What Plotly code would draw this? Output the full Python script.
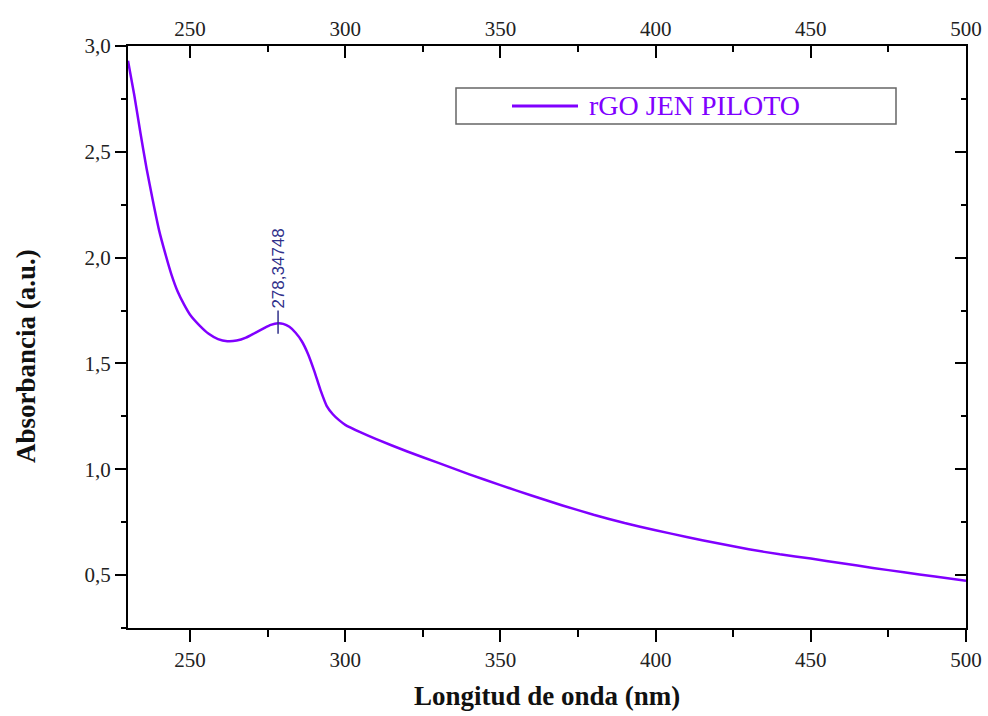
import plotly.graph_objects as go

# Data
wavelength = [230, 232, 234, 236, 238, 240, 242, 244, 246, 248, 250, 253, 256, 259, 262, 265,
              268, 271, 274, 276, 278.35, 280, 282, 284, 286, 288, 290, 292, 294, 296, 298,
              300, 305, 310, 320, 330, 340, 350, 360, 370, 380, 390, 400, 410, 420, 430, 440,
              450, 460, 470, 480, 490, 500]
absorbance = [2.93, 2.77, 2.59, 2.42, 2.27, 2.13, 2.02, 1.92, 1.84, 1.78, 1.73, 1.68, 1.64, 1.615, 1.605, 1.608,
              1.622, 1.645, 1.668, 1.682, 1.69, 1.687, 1.673, 1.645, 1.605, 1.545, 1.465, 1.375, 1.30, 1.26, 1.232,
              1.21, 1.174, 1.142, 1.084, 1.03, 0.976, 0.925, 0.876, 0.829, 0.785, 0.746, 0.712, 0.68, 0.65, 0.622, 0.598,
              0.578, 0.556, 0.534, 0.513, 0.493, 0.473]
series_name = "rGO JEN PILOTO"
peak_label = "278,34748"
peak_x = 278.34748
x_title = "Longitud de onda (nm)"
y_title = "Absorbancia (a.u.)"

x_range = [230, 500]
y_range = [0.25, 3.0]

line_color = "#8000FF"
serif = "Liberation Serif"

peak_y = absorbance[wavelength.index(278.35)]

fig = go.Figure()
fig.add_trace(go.Scatter(x=wavelength, y=absorbance, mode="lines", name=series_name,
                         line=dict(color=line_color, width=2.5, shape="spline", smoothing=0.5),
                         showlegend=False))
# invisible trace to activate the mirror axes
fig.add_trace(go.Scatter(x=wavelength, y=absorbance, xaxis="x2", yaxis="y2", mode="lines",
                         line=dict(color="rgba(0,0,0,0)"), hoverinfo="skip", showlegend=False))

tickfont = dict(family=serif, size=21, color="#222222")
common = dict(tickwidth=2, tickcolor="black", showline=True, linewidth=2, linecolor="black",
              showgrid=False, zeroline=False)
fig.update_layout(
    width=988, height=716,
    font=dict(family=serif),
    margin=dict(l=128, r=22, t=46, b=88, autoexpand=False),
    paper_bgcolor="white", plot_bgcolor="white",
    separators=",.",
    xaxis=dict(range=x_range, tick0=250, dtick=50, ticks="outside", ticklen=12, tickfont=tickfont,
               minor=dict(ticks="outside", ticklen=7, tickwidth=2, tickcolor="black", dtick=25, tick0=250),
               **common),
    xaxis2=dict(range=x_range, overlaying="x", side="top", tick0=250, dtick=50, ticks="inside",
                ticklen=12, tickfont=tickfont,
                minor=dict(ticks="inside", ticklen=6, tickwidth=2, tickcolor="black", dtick=25, tick0=250),
                **common),
    yaxis=dict(range=y_range, tick0=0.5, dtick=0.5, tickformat=".1f", ticks="outside", ticklen=11,
               tickfont=tickfont,
               minor=dict(ticks="outside", ticklen=5, tickwidth=2, tickcolor="black", dtick=0.25, tick0=0.25),
               **common),
    yaxis2=dict(range=y_range, overlaying="y", side="right", tick0=0.5, dtick=0.5, ticks="inside",
                ticklen=11, showticklabels=False,
                minor=dict(ticks="inside", ticklen=5, tickwidth=2, tickcolor="black", dtick=0.25, tick0=0.25),
                **common),
)

px0, px1 = 128, 966
py0, py1 = 46, 628
def fx(p):
    return (p - px0) / (px1 - px0)
def fy(p):
    return 1 - (p - py0) / (py1 - py0)

# axis titles
fig.add_annotation(xref="paper", yref="paper", x=0.5, y=fy(679), text="<b>" + x_title + "</b>",
                   showarrow=False, xanchor="center", yanchor="top",
                   font=dict(family=serif, size=27, color="#111111"))
fig.add_annotation(xref="paper", yref="paper", x=fx(26), y=fy(356), text="<b>" + y_title + "</b>",
                   showarrow=False, xanchor="center", yanchor="middle", textangle=-90,
                   font=dict(family=serif, size=27, color="#111111"))

# peak marker and label
fig.add_shape(type="line", xref="x", yref="y", x0=peak_x, x1=peak_x, y0=peak_y - 0.05, y1=peak_y + 0.06,
              line=dict(color="#30308a", width=1.5))
fig.add_annotation(x=peak_x, y=peak_y + 0.06, xref="x", yref="y", text=peak_label, textangle=-90,
                   showarrow=False, xanchor="center", yanchor="bottom",
                   font=dict(family="Liberation Sans", size=17, color="#30308a"))

# legend box drawn manually
fig.add_shape(type="rect", xref="paper", yref="paper", x0=fx(456), x1=fx(896), y0=fy(124), y1=fy(88),
              line=dict(color="#666666", width=1.5), fillcolor="white")
fig.add_shape(type="line", xref="paper", yref="paper", x0=fx(512), x1=fx(578), y0=fy(106), y1=fy(106),
              line=dict(color=line_color, width=3))
fig.add_annotation(xref="paper", yref="paper", x=fx(587), y=fy(106), text=series_name, showarrow=False,
                   xanchor="left", yanchor="middle",
                   font=dict(family=serif, size=28, color=line_color))

fig.write_html("out.html")
